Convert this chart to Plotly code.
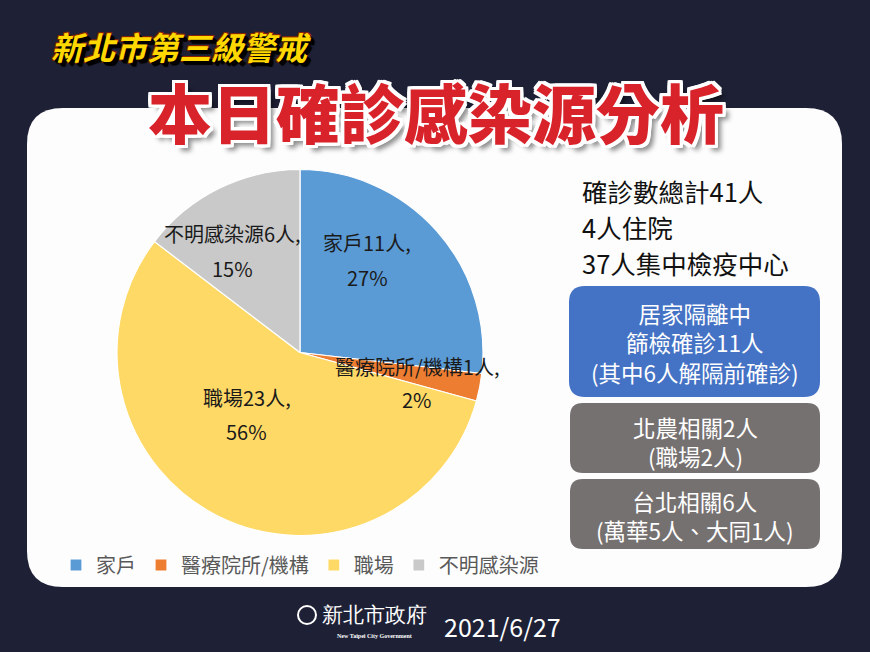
import plotly.graph_objects as go

W, H = 870, 652

# ---- data ----
categories = ["家戶", "醫療院所/機構", "職場", "不明感染源"]
counts = [11, 1, 23, 6]
percents = ["27%", "2%", "56%", "15%"]
slice_colors = ["#5B9BD5", "#ED7D31", "#FFD966", "#C9C9C9"]

summary_lines = ["確診數總計41人", "4人住院", "37人集中檢疫中心"]
blue_box_lines = ["居家隔離中", "篩檢確診11人", "(其中6人解隔前確診)"]
gray_box1_lines = ["北農相關2人", "(職場2人)"]
gray_box2_lines = ["台北相關6人", "(萬華5人、大同1人)"]

title_small = "新北市第三級警戒"
title_main = "本日確診感染源分析"
date_text = "2021/6/27"

FONT = "Noto Sans CJK TC, Noto Sans, sans-serif"


def fx(x):
    return x / W


def fy(y):
    return 1 - y / H


def rrect(x0, y0, x1, y1, r):
    p = [
        f"M {fx(x0 + r)},{fy(y0)}",
        f"L {fx(x1 - r)},{fy(y0)}",
        f"Q {fx(x1)},{fy(y0)} {fx(x1)},{fy(y0 + r)}",
        f"L {fx(x1)},{fy(y1 - r)}",
        f"Q {fx(x1)},{fy(y1)} {fx(x1 - r)},{fy(y1)}",
        f"L {fx(x0 + r)},{fy(y1)}",
        f"Q {fx(x0)},{fy(y1)} {fx(x0)},{fy(y1 - r)}",
        f"L {fx(x0)},{fy(y0 + r)}",
        f"Q {fx(x0)},{fy(y0)} {fx(x0 + r)},{fy(y0)}",
        "Z",
    ]
    return " ".join(p)


fig = go.Figure()

fig.add_trace(go.Pie(
    labels=categories,
    values=counts,
    sort=False,
    direction="clockwise",
    rotation=0,
    marker=dict(colors=slice_colors, line=dict(color="white", width=1.2)),
    textinfo="none",
    hoverinfo="skip",
    domain=dict(x=[fx(117), fx(483)], y=[fy(536), fy(169)]),
))

shapes = [
    dict(type="path", path=rrect(27, 108, 842, 587, 36), xref="paper", yref="paper",
         fillcolor="#FDFDFD", line=dict(width=0), layer="below"),
    dict(type="path", path=rrect(569, 286, 820, 397, 16), xref="paper", yref="paper",
         fillcolor="#4472C4", line=dict(width=0), layer="below"),
    dict(type="path", path=rrect(570, 403, 820, 473, 13), xref="paper", yref="paper",
         fillcolor="#767171", line=dict(width=0), layer="below"),
    dict(type="path", path=rrect(570, 479, 820, 549, 13), xref="paper", yref="paper",
         fillcolor="#767171", line=dict(width=0), layer="below"),
    # simple logo emblem outline
    dict(type="circle", x0=fx(298), x1=fx(316), y0=fy(606), y1=fy(624), xref="paper", yref="paper",
         line=dict(color="#FFFFFF", width=2)),
]

ann = []


def add_text(x, y, text, size, color, xanchor="center", family=FONT, **font_kw):
    ann.append(dict(x=fx(x), y=fy(y), xref="paper", yref="paper", text=text,
                    showarrow=False, xanchor=xanchor, yanchor="middle",
                    font=dict(family=family, size=size, color=color, **font_kw)))


# titles
add_text(181, 46, title_small, 32, "#FFD800", weight="bold", style="italic",
         shadow="3px 3px 0 #000, 2px 2px 0 #000, 4px 4px 1px #000, -1px -1px 0 #8a2400, 1px -1px 0 #8a2400, -1px 1px 0 #8a2400")
white_outline = ", ".join(f"{dx}px {dy}px 0 #fff" for dx, dy in
                          [(3, 0), (-3, 0), (0, 3), (0, -3), (3, 3), (-3, -3), (3, -3), (-3, 3),
                           (2, 3), (3, 2), (-2, 3), (-3, 2), (2, -3), (3, -2), (-2, -3), (-3, -2)])
add_text(436, 110, title_main, 64, "#D9232B", weight=900,
         shadow=white_outline + ", 6px 6px 5px rgba(0,0,0,0.45)")

# pie labels
label_pos = [(367, 242, 277), (417, 366, 399), (247, 397, 432), (232, 233, 268)]
for (x, y1, y2), cat, n, pct in zip(label_pos, categories, counts, percents):
    add_text(x, y1, f"{cat}{n}人,", 20, "#1a1a1a")
    add_text(x, y2, pct, 20, "#1a1a1a")

# summary text
for y, t in zip([190, 226, 262], summary_lines):
    add_text(580, y, t, 25.5, "#111111", xanchor="left")

# boxes
add_text(695, 342, "<br>".join(blue_box_lines), 22.5, "#FFFFFF")
add_text(695, 441, "<br>".join(gray_box1_lines), 22.5, "#FFFFFF")
add_text(695, 515, "<br>".join(gray_box2_lines), 22.5, "#FFFFFF")

# footer
add_text(374, 615, "新北市政府", 21, "#FFFFFF", family="serif")
add_text(374, 636, "New Taipei City Government", 6, "#FFFFFF", family="serif", weight="bold")
add_text(502, 626, date_text, 25, "#FFFFFF")

fig.update_layout(
    width=W, height=H,
    margin=dict(l=0, r=0, t=0, b=0),
    paper_bgcolor="#1E2136",
    plot_bgcolor="#1E2136",
    shapes=shapes,
    annotations=ann,
    showlegend=True,
    legend=dict(orientation="h", x=fx(56), xanchor="left", y=fy(565), yanchor="middle",
                font=dict(family=FONT, size=20, color="#595959"),
                bgcolor="rgba(0,0,0,0)", itemclick=False, itemdoubleclick=False),
)

fig.write_html("out.html", config={"displayModeBar": False},
               post_script="document.body.style.margin='0';")
